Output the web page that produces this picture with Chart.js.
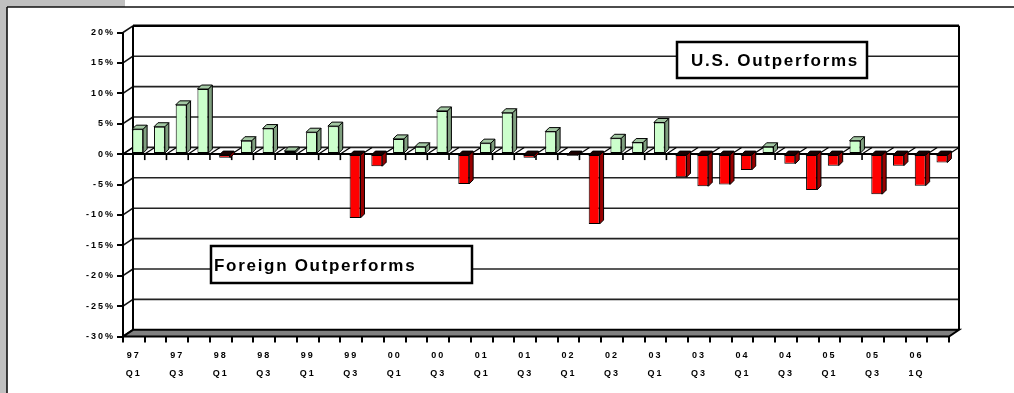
<!DOCTYPE html>
<html><head><meta charset="utf-8">
<script src="https://cdn.jsdelivr.net/npm/chart.js@4"></script>
<style>html,body{margin:0;padding:0;background:#fff;overflow:hidden}
#wrap{position:relative;width:1014px;height:393px}</style>
</head><body><div id="wrap"><canvas id="c" width="1014" height="393"></canvas></div>
<script>
const categories = ['97 Q1','97 Q2','97 Q3','97 Q4','98 Q1','98 Q2','98 Q3','98 Q4','99 Q1','99 Q2','99 Q3','99 Q4',
  '00 Q1','00 Q2','00 Q3','00 Q4','01 Q1','01 Q2','01 Q3','01 Q4','02 Q1','02 Q2','02 Q3','02 Q4',
  '03 Q1','03 Q2','03 Q3','03 Q4','04 Q1','04 Q2','04 Q3','04 Q4','05 Q1','05 Q2','05 Q3','05 Q4','06 Q1','06 Q2'];
const tickLabels = ['97\nQ1','','97\nQ3','','98\nQ1','','98\nQ3','','99\nQ1','','99\nQ3','','00\nQ1','','00\nQ3','',
  '01\nQ1','','01\nQ3','','02\nQ1','','02\nQ3','','03\nQ1','','03\nQ3','','04\nQ1','','04\nQ3','','05\nQ1','','05\nQ3','','06\n1Q',''];
const values = [4.1, 4.5, 8.1, 10.7, -0.6, 2.2, 4.2, 0.5, 3.6, 4.6,
  -10.5, -2.0, 2.5, 1.2, 7.1, -4.9, 1.8, 6.8, -0.6, 3.7,
  -0.2, -11.5, 2.6, 1.9, 5.2, -3.8, -5.3, -5.0, -2.6, 1.2,
  -1.6, -5.9, -1.9, 2.2, -6.6, -1.9, -5.2, -1.4];
const yTicks = [20, 15, 10, 5, 0, -5, -10, -15, -20, -25, -30];
const noteUS = 'U.S. Outperforms';
const noteForeign = 'Foreign Outperforms';

const FONT = 'Arial, "Liberation Sans", sans-serif';
const GREEN = '#ccffcc', GREEN_SIDE = '#7f9f7f', GREEN_TOP = '#a3c8a3';
const RED = '#ff0000', RED_SIDE = '#990000', RED_TOP = '#1a0000';
const BACK_DX = 10, BACK_DY = -6.7;   // wall depth
const BAR_DX = 4, BAR_DY = -4;        // bar depth
const BAR_SHIFT = 3.8;

function poly(ctx, pts, fill, stroke, lw) {
  ctx.beginPath();
  ctx.moveTo(pts[0][0], pts[0][1]);
  for (let i = 1; i < pts.length; i++) ctx.lineTo(pts[i][0], pts[i][1]);
  ctx.closePath();
  if (fill) { ctx.fillStyle = fill; ctx.fill(); }
  if (stroke) { ctx.strokeStyle = stroke; ctx.lineWidth = lw || 1; ctx.stroke(); }
}
function line(ctx, x1, y1, x2, y2, w, c) {
  ctx.beginPath(); ctx.moveTo(x1, y1); ctx.lineTo(x2, y2);
  ctx.lineWidth = w; ctx.strokeStyle = c || '#000'; ctx.stroke();
}

const threeD = {
  id: 'threeD',
  beforeDraw(chart) {
    const ctx = chart.ctx, a = chart.chartArea, y = chart.scales.y, x = chart.scales.x;
    ctx.save();
    // page frame
    ctx.fillStyle = '#c0c0c0';
    ctx.fillRect(0, 0, 7, 393);
    ctx.fillRect(0, 0, 125, 7);
    line(ctx, 7, 7, 1014, 7, 1.6, '#111');
    line(ctx, 7, 7, 7, 393, 1.6, '#111');
    // back wall gridlines
    yTicks.forEach(t => {
      const py = y.getPixelForValue(t);
      if (t !== 20) line(ctx, a.left + BACK_DX, py + BACK_DY, a.right + BACK_DX, py + BACK_DY, 1.6, '#222');
      line(ctx, a.left, py, a.left + BACK_DX, py + BACK_DY, 1.6, '#111');
    });
    // floor
    const yb = y.getPixelForValue(-30);
    poly(ctx, [[a.left, yb], [a.right, yb], [a.right + BACK_DX, yb + BACK_DY], [a.left + BACK_DX, yb + BACK_DY]], '#808080', '#000', 2);
    // walls
    const yt = y.getPixelForValue(20);
    line(ctx, a.left + BACK_DX, yt + BACK_DY, a.right + BACK_DX, yt + BACK_DY, 2.6, '#000');
    line(ctx, a.right + BACK_DX, yt + BACK_DY, a.right + BACK_DX, yb + BACK_DY, 2, '#000');
    line(ctx, a.left + BACK_DX, yt + BACK_DY, a.left + BACK_DX, yb + BACK_DY, 2, '#000');
    line(ctx, a.left, yt, a.left, yb + 1, 2, '#000');
    // zero level
    const y0 = y.getPixelForValue(0);
    line(ctx, a.left, y0, a.right, y0, 2, '#000');
    for (let i = 0; i <= categories.length; i++) {
      const px = x.getPixelForGridLine ? x.getPixelForGridLine(i) : a.left + i * (a.right - a.left) / categories.length;
      line(ctx, px, y0, px, y0 + 6, 1.6, '#000');
      line(ctx, px, y0, px + BACK_DX, y0 + BACK_DY, 1.2, '#000');
    }
    ctx.restore();
    ctx.letterSpacing = '2px';
  },
  beforeDatasetsDraw(chart) {
    const ctx = chart.ctx;
    ctx.save();
    ctx.translate(BAR_SHIFT, 0);
    const meta = chart.getDatasetMeta(0);
    meta.data.forEach((el, i) => {
      const v = values[i];
      const x0 = el.x - el.width / 2, x1 = el.x + el.width / 2;
      const top = Math.min(el.y, el.base), bot = Math.max(el.y, el.base);
      const side = v >= 0 ? GREEN_SIDE : RED_SIDE;
      const topc = v >= 0 ? GREEN_TOP : RED_TOP;
      poly(ctx, [[x1, top], [x1 + BAR_DX, top + BAR_DY], [x1 + BAR_DX, bot + BAR_DY], [x1, bot]], side, '#000', 1);
      poly(ctx, [[x0, top], [x1, top], [x1 + BAR_DX, top + BAR_DY], [x0 + BAR_DX, top + BAR_DY]], topc, '#000', 1);
    });
  },
  afterDatasetsDraw(chart) {
    chart.ctx.restore();
  },
  afterDraw(chart) {
    const ctx = chart.ctx;
    ctx.save();
    ctx.letterSpacing = '1.7px';
    ctx.font = 'bold 17px ' + FONT;
    ctx.textBaseline = 'alphabetic';
    ctx.textAlign = 'left';
    // U.S. box
    ctx.fillStyle = '#fff';
    ctx.fillRect(677, 42, 190, 36);
    ctx.lineWidth = 2.5; ctx.strokeStyle = '#000';
    ctx.strokeRect(677, 42, 190, 36);
    ctx.fillStyle = '#000';
    ctx.fillText(noteUS, 691, 65.5);
    // Foreign box
    ctx.fillStyle = '#fff';
    ctx.fillRect(211, 246, 261, 37);
    ctx.strokeRect(211, 246, 261, 37);
    ctx.fillStyle = '#000';
    ctx.fillText(noteForeign, 214, 270.5);
    ctx.restore();
  }
};

const ctx = document.getElementById('c').getContext('2d');
new Chart(ctx, {
  type: 'bar',
  data: {
    labels: categories,
    datasets: [{
      data: values,
      backgroundColor: values.map(v => v >= 0 ? GREEN : RED),
      borderColor: '#000',
      borderWidth: 1,
      borderSkipped: false,
      categoryPercentage: 1,
      barPercentage: 0.5
    }]
  },
  options: {
    responsive: false,
    animation: false,
    devicePixelRatio: 1,
    layout: { padding: { left: 0, top: 32.5, right: 65, bottom: 0 } },
    plugins: { legend: { display: false }, tooltip: { enabled: false } },
    scales: {
      x: {
        offset: true,
        border: { display: false },
        grid: { display: true, offset: true, drawOnChartArea: false, drawTicks: true, tickLength: 6, color: '#000', lineWidth: 2 },
        ticks: {
          autoSkip: false, maxRotation: 0, minRotation: 0, padding: 4, color: '#000',
          font: { family: FONT, size: 9, weight: 'bold', lineHeight: 2.0 },
          callback: (v, i) => tickLabels[i] ? tickLabels[i].split('\n') : ''
        },
        afterFit: s => { s.height = 393 - 336.5; }
      },
      y: {
        min: -30, max: 20,
        border: { display: false },
        grid: { drawOnChartArea: false, drawTicks: true, tickLength: 6, color: '#000', lineWidth: 2 },
        ticks: {
          stepSize: 5, padding: 2, color: '#000',
          font: { family: FONT, size: 9, weight: 'bold' },
          callback: v => v + '%'
        },
        afterFit: s => { s.width = 123; }
      }
    }
  },
  plugins: [threeD]
});
</script>
</body></html>
